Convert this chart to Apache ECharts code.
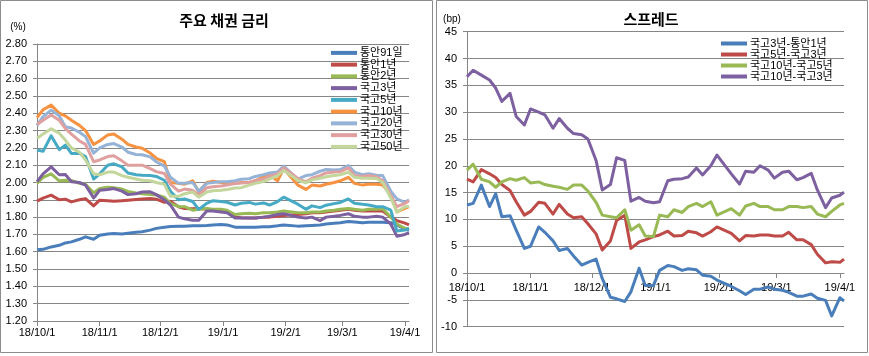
<!DOCTYPE html>
<html><head><meta charset="utf-8">
<script src="https://cdn.jsdelivr.net/npm/echarts@6/dist/echarts.min.js"></script>
<style>html,body{margin:0;padding:0;background:#fff}#c{width:869px;height:356px}</style>
</head><body><div id="c"></div>
<script>
// ---------- data ----------
const dates = ['2018-10-01','2018-10-04','2018-10-08','2018-10-12','2018-10-15','2018-10-18','2018-10-22','2018-10-25','2018-10-29',
  '2018-11-01','2018-11-05','2018-11-08','2018-11-12','2018-11-15','2018-11-19','2018-11-22','2018-11-26','2018-11-29',
  '2018-12-03','2018-12-06','2018-12-10','2018-12-13','2018-12-17','2018-12-20','2018-12-24','2018-12-27','2018-12-31',
  '2019-01-03','2019-01-07','2019-01-10','2019-01-14','2019-01-17','2019-01-21','2019-01-24','2019-01-28','2019-01-31',
  '2019-02-07','2019-02-11','2019-02-14','2019-02-18','2019-02-21','2019-02-25','2019-02-28',
  '2019-03-04','2019-03-07','2019-03-11','2019-03-14','2019-03-18','2019-03-21','2019-03-25','2019-03-28',
  '2019-04-01','2019-04-03'];

const tb91  = [1.612,1.614,1.628,1.637,1.651,1.657,1.672,1.686,1.672,1.695,1.703,1.705,1.702,1.707,1.712,1.716,1.725,1.735,1.742,1.746,1.748,1.748,1.750,1.750,1.752,1.755,1.758,1.755,1.742,1.742,1.742,1.742,1.745,1.745,1.750,1.755,1.748,1.750,1.752,1.755,1.760,1.765,1.768,1.775,1.772,1.768,1.770,1.770,1.770,1.768,1.755,1.730,1.725];
const tb1y  = [1.892,1.910,1.927,1.900,1.904,1.888,1.900,1.907,1.865,1.898,1.895,1.892,1.895,1.898,1.902,1.904,1.907,1.904,1.886,1.892,1.860,1.850,1.848,1.850,1.845,1.840,1.838,1.830,1.800,1.797,1.795,1.795,1.800,1.800,1.805,1.810,1.815,1.820,1.825,1.825,1.830,1.835,1.840,1.845,1.840,1.835,1.835,1.835,1.835,1.800,1.780,1.765,1.755];
const tb2y  = [1.995,2.030,2.050,2.010,2.013,2.012,1.995,1.990,1.940,1.965,1.972,1.970,1.962,1.948,1.940,1.935,1.930,1.928,1.915,1.880,1.862,1.860,1.840,1.845,1.850,1.845,1.845,1.840,1.815,1.820,1.822,1.820,1.825,1.825,1.830,1.835,1.825,1.825,1.830,1.830,1.835,1.840,1.845,1.850,1.845,1.840,1.845,1.845,1.848,1.800,1.760,1.735,1.735];
const ktb3  = [2.005,2.050,2.090,2.045,2.046,2.005,2.000,1.985,1.910,1.955,1.960,1.965,1.950,1.930,1.935,1.945,1.946,1.930,1.900,1.870,1.800,1.790,1.782,1.782,1.835,1.835,1.830,1.825,1.795,1.795,1.795,1.795,1.800,1.805,1.815,1.820,1.800,1.795,1.800,1.780,1.800,1.805,1.810,1.820,1.805,1.800,1.800,1.805,1.800,1.760,1.690,1.700,1.710];
const ktb5  = [2.187,2.180,2.270,2.190,2.216,2.168,2.168,2.150,2.020,2.050,2.100,2.108,2.090,2.055,2.045,2.042,2.040,2.035,2.013,1.950,1.900,1.905,1.890,1.845,1.880,1.895,1.890,1.886,1.870,1.880,1.885,1.875,1.882,1.870,1.890,1.915,1.875,1.845,1.865,1.855,1.869,1.878,1.885,1.905,1.880,1.875,1.870,1.860,1.860,1.840,1.720,1.725,1.735];
const ktb10 = [2.375,2.420,2.447,2.400,2.385,2.360,2.330,2.300,2.220,2.240,2.275,2.280,2.250,2.220,2.205,2.198,2.170,2.140,2.120,2.000,1.995,1.990,2.010,1.945,2.000,2.008,2.000,2.000,1.995,2.000,2.000,2.010,2.033,2.045,2.010,2.080,1.985,1.960,1.985,1.980,1.990,2.000,2.010,2.030,1.995,1.985,1.990,1.990,1.985,1.930,1.830,1.850,1.860];
const ktb20 = [2.330,2.380,2.418,2.385,2.322,2.315,2.290,2.265,2.170,2.200,2.220,2.225,2.205,2.175,2.162,2.160,2.148,2.120,2.095,2.030,1.995,1.995,2.000,1.950,1.995,2.000,2.005,2.004,2.010,2.019,2.022,2.035,2.045,2.055,2.060,2.095,2.020,2.040,2.045,2.065,2.075,2.072,2.075,2.098,2.060,2.045,2.050,2.042,2.040,1.950,1.905,1.885,1.900];
const ktb30 = [2.335,2.360,2.390,2.360,2.312,2.280,2.240,2.220,2.120,2.130,2.150,2.155,2.125,2.100,2.100,2.100,2.080,2.063,2.052,1.990,1.950,1.962,1.955,1.925,1.970,1.975,1.980,1.985,1.994,1.997,2.000,2.010,2.020,2.035,2.050,2.085,2.023,2.004,2.025,2.040,2.055,2.060,2.062,2.085,2.040,2.035,2.040,2.033,2.010,1.925,1.860,1.880,1.895];
const ktb50 = [2.255,2.280,2.310,2.285,2.245,2.200,2.175,2.130,2.050,2.045,2.060,2.060,2.040,2.030,2.020,2.013,2.010,2.000,1.990,1.920,1.920,1.935,1.945,1.915,1.945,1.952,1.955,1.960,1.968,1.970,1.985,1.995,2.005,2.020,2.040,2.070,2.013,1.998,2.015,2.025,2.033,2.040,2.045,2.060,2.030,2.025,2.025,2.023,2.000,1.910,1.830,1.860,1.862];

const sp3_1   = [12.7,13.0,16.4,12.4,14.8,10.5,10.7,8.0,4.6,5.0,8.6,7.6,6.0,4.2,4.6,3.2,1.5,2.0,2.6,-1.0,-4.5,-4.8,-5.3,-3.5,0.9,-2.3,-2.3,0.5,1.4,1.2,0.5,0.8,0.6,-0.4,-0.6,-1.3,-2.5,-3.3,-4.0,-3.0,-3.0,-2.6,-3.0,-3.2,-3.6,-4.3,-4.3,-3.9,-4.7,-5.1,-8.0,-4.6,-5.2];
const sp5_3   = [17.5,17.0,19.3,18.5,17.8,16.5,15.4,13.3,10.8,11.5,13.2,13.0,11.0,12.8,11.0,10.3,10.5,9.2,7.3,4.3,6.0,9.8,10.8,4.6,5.8,6.2,6.8,7.1,7.8,6.9,7.0,7.8,7.5,6.9,7.7,8.6,7.4,6.0,7.0,6.9,7.1,7.1,6.9,6.9,7.6,6.2,6.2,5.3,3.5,1.9,2.1,2.0,2.6];
const sp10_5  = [19.2,20.3,17.5,17.0,16.0,17.0,17.6,17.3,17.8,16.8,17.0,16.5,16.2,16.0,15.6,16.4,16.4,15.3,13.2,10.8,10.5,10.3,11.8,8.0,9.0,6.9,6.8,10.8,10.5,11.8,11.3,12.4,13.0,12.4,13.3,10.8,12.0,10.8,12.5,13.0,12.4,12.4,11.8,11.8,12.4,12.4,12.2,12.4,11.0,10.5,11.5,12.7,13.0];
const sp10_3  = [36.6,37.8,36.9,36.0,34.5,32.0,33.5,29.2,27.6,30.6,30.0,29.5,27.0,28.8,27.0,26.0,25.8,25.0,21.0,15.5,16.5,21.5,21.0,13.4,14.1,13.4,13.1,13.3,17.2,17.5,17.6,17.9,19.6,18.3,20.0,22.0,18.5,16.6,19.0,18.8,20.0,19.2,17.7,18.8,19.0,17.4,17.8,18.6,15.5,12.2,14.0,14.5,15.1];

const leftNames  = ['통안91일','통안1년','통안2년','국고3년','국고5년','국고10년','국고20년','국고30년','국고50년'];
const leftValues = [tb91, tb1y, tb2y, ktb3, ktb5, ktb10, ktb20, ktb30, ktb50];
const leftColors = ['#4A7EBB','#BE4B48','#98B954','#7D60A0','#46AAC5','#F69240','#95B3D7','#E0A0A0','#C3D69B'];
const rightNames  = ['국고3년-통안1년','국고5년-국고3년','국고10년-국고5년','국고10년-국고3년'];
const rightValues = [sp3_1, sp5_3, sp10_5, sp10_3];
const rightColors = ['#4A7EBB','#BE4B48','#98B954','#7D60A0'];

// ---------- chart ----------
const ts = s => { const p = s.split('-').map(Number); return new Date(p[0], p[1]-1, p[2]).getTime(); };
const fmtDate = v => { const d = new Date(v); return (d.getFullYear()%100) + '/' + (d.getMonth()+1) + '/' + d.getDate(); };
const NUMF = '"Liberation Sans Narrow","Liberation Sans","Noto Sans CJK KR",sans-serif';
const KRF = '"Noto Sans CJK KR","Liberation Sans",sans-serif';
const GRID = '#868686';
const G1 = {left:467, top:31.7, width:377, height:295};

function xAxis(gi, margin){
  return {
    type:'time', gridIndex:gi, min:ts('2018-10-01'), max:ts('2019-04-03'),
    minInterval:28*864e5, maxInterval:31*864e5,
    axisLine:{show:true, onZero:false, lineStyle:{color:GRID, width:1}},
    axisTick:{show:true, length:5, inside:false, lineStyle:{color:GRID}},
    axisLabel:{fontSize:11, fontFamily:NUMF, color:'#000', margin:margin, formatter:fmtDate, hideOverlap:false},
    splitLine:{show:false}
  };
}
function yAxis(gi, min, max, interval, dec){
  return {
    type:'value', gridIndex:gi, min:min, max:max, interval:interval,
    axisLine:{show:true, lineStyle:{color:GRID, width:1}},
    axisTick:{show:true, length:4, inside:false, lineStyle:{color:GRID}},
    axisLabel:{fontSize:11, fontFamily:NUMF, color:'#000', margin:10, formatter: v => v.toFixed(dec)},
    splitLine:{show:true, lineStyle:{color:GRID, width:1}}
  };
}
const series = [];
leftNames.forEach((n,i)=>series.push({
  name:n, type:'line', xAxisIndex:0, yAxisIndex:0, showSymbol:false, symbol:'none',
  data: dates.map((d,j)=>[ts(d), leftValues[i][j]]),
  lineStyle:{width:3, color:leftColors[i], join:'round'}, itemStyle:{color:leftColors[i]},
  emphasis:{disabled:true}
}));
rightNames.forEach((n,i)=>series.push({
  name:n, type:'line', xAxisIndex:1, yAxisIndex:1, showSymbol:false, symbol:'none',
  data: dates.map((d,j)=>[ts(d), rightValues[i][j]]),
  lineStyle:{width:3, color:rightColors[i], join:'round'}, itemStyle:{color:rightColors[i]},
  emphasis:{disabled:true}
}));

const chart = echarts.init(document.getElementById('c'), null, {renderer:'canvas'});
chart.setOption({
  animation:false,
  backgroundColor:'#fff',
  graphic:[
    {type:'rect', shape:{x:0.5, y:0.5, width:432, height:352}, style:{fill:null, stroke:'#8c8c8c', lineWidth:1}, z:-1},
    {type:'rect', shape:{x:436.5, y:0.5, width:431, height:352}, style:{fill:null, stroke:'#8c8c8c', lineWidth:1}, z:-1},
    {type:'text', x:224, y:20, style:{text:'주요 채권 금리', font:'bold 15px '+KRF, fill:'#000', textAlign:'center', textVerticalAlign:'middle'}},
    {type:'text', x:651, y:19, style:{text:'스프레드', font:'bold 15px '+KRF, fill:'#000', textAlign:'center', textVerticalAlign:'middle'}},
    {type:'text', x:18, y:27, style:{text:'(%)', font:'10px '+NUMF, fill:'#000', textAlign:'center', textVerticalAlign:'middle'}},
    {type:'text', x:452, y:19, style:{text:'(bp)', font:'10px '+NUMF, fill:'#000', textAlign:'center', textVerticalAlign:'middle'}}
  ],
  grid:[
    {left:37, top:44, width:372, height:277},
    G1
  ],
  xAxis:[xAxis(0, 6), xAxis(1, 9)],
  yAxis:[yAxis(0,1.2,2.8,0.1,2), yAxis(1,-10,45,5,0)],
  legend:[
    {data:leftNames, orient:'vertical', left:331, top:47, itemWidth:26, itemHeight:4, itemGap:0, icon:'rect', padding:0,
     selectedMode:false, textStyle:{fontSize:11, lineHeight:11.75, fontFamily:NUMF, color:'#000', padding:[0,0,0,-2]}},
    {data:rightNames, orient:'vertical', left:721, top:38, itemWidth:26, itemHeight:4, itemGap:0, icon:'rect', padding:0,
     selectedMode:false, textStyle:{fontSize:11, lineHeight:10.7, fontFamily:NUMF, color:'#000', padding:[0,0,0,-2]}}
  ],
  series:series
});
// move the spread chart's date axis (line, ticks, labels) to the zero line, as in the original
const yZero = chart.convertToPixel({yAxisIndex:1}, 0);
const gridBottom = G1.top + G1.height;
chart.setOption({xAxis:[{}, {offset: yZero - gridBottom}]});
</script></body></html>
